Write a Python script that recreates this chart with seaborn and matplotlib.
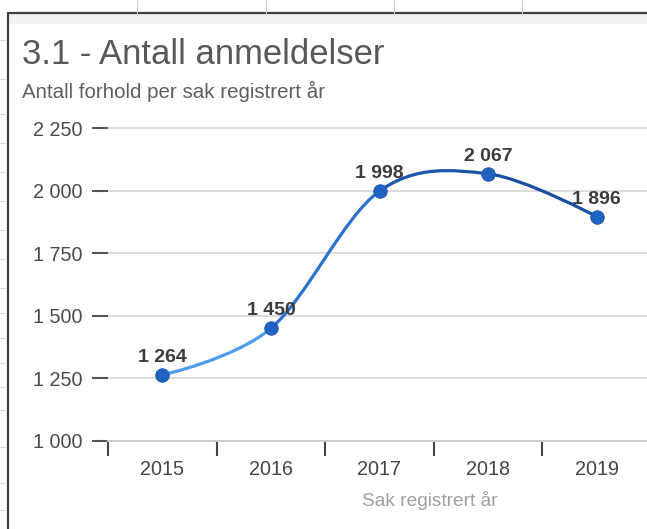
import numpy as np
import pandas as pd
import matplotlib
matplotlib.use("Agg")
import matplotlib.pyplot as plt
from matplotlib.path import Path
from matplotlib.patches import PathPatch
from matplotlib.lines import Line2D
import seaborn as sns

# ---- data ----
years = ["2015", "2016", "2017", "2018", "2019"]
values = [1264, 1450, 1998, 2067, 1896]
value_labels = ["1 264", "1 450", "1 998", "2 067", "1 896"]
ytick_values = [1000, 1250, 1500, 1750, 2000, 2250]
ytick_labels = ["1 000", "1 250", "1 500", "1 750", "2 000", "2 250"]
title = "3.1 - Antall anmeldelser"
subtitle = "Antall forhold per sak registrert år"
xlabel = "Sak registrert år"

sns.set_theme(style="white")
plt.rcParams["font.family"] = ["Liberation Sans", "DejaVu Sans"]

W, H = 647, 529
fig = plt.figure(figsize=(W / 100, H / 100), dpi=100)
fig.patch.set_facecolor("white")

def fx(px):
    return px / W

def fy(py):
    return 1 - py / H

# axes region in pixels
ax_left, ax_right, ax_top, ax_bottom = 108, 651, 128, 441
ax = fig.add_axes([fx(ax_left), fy(ax_bottom), (ax_right - ax_left) / W, (ax_bottom - ax_top) / H])
ax.set_facecolor("none")

df = pd.DataFrame({"pos": np.arange(len(years)), "year": years, "value": values})

ax.set_xlim(-0.5, len(years) - 0.5)
ax.set_ylim(ytick_values[0], ytick_values[-1])

# smooth curve (cardinal/Catmull-Rom style Bezier rendering between data points)
px = df["pos"].to_numpy(dtype=float)
py = df["value"].to_numpy(dtype=float)
n = len(px)
tx = np.zeros(n)
ty = np.zeros(n)
for i in range(1, n - 1):
    tx[i] = (px[i + 1] - px[i - 1]) / 2
    ty[i] = (py[i + 1] - py[i - 1]) / 2
seg_colors = ["#4d9cf0", "#2c70d2", "#1c56ac", "#184fa0"]
for i in range(n - 1):
    verts = [(px[i], py[i]),
             (px[i] + tx[i] / 3, py[i] + ty[i] / 3),
             (px[i + 1] - tx[i + 1] / 3, py[i + 1] - ty[i + 1] / 3),
             (px[i + 1], py[i + 1])]
    path = Path(verts, [Path.MOVETO, Path.CURVE4, Path.CURVE4, Path.CURVE4])
    ax.add_patch(PathPatch(path, facecolor="none", edgecolor=seg_colors[i],
                           lw=2.3, capstyle="round", zorder=3))

sns.scatterplot(data=df, x="pos", y="value", ax=ax, s=95, color="#1f62c2",
                edgecolor="#1a56ad", linewidth=0.6, zorder=4, legend=False)

for xi, yi, lab in zip(px, py, value_labels):
    ax.annotate(lab, (xi, yi), xytext=(0, 6.5), textcoords="offset points",
                ha="center", va="bottom", fontsize=14, fontweight="bold",
                color="#3c3c3c", zorder=5)

# y axis
ax.set_yticks(ytick_values)
ax.set_yticklabels(ytick_labels)
ax.tick_params(axis="y", which="major", length=11.5, width=1.5, color="#555555",
               pad=7.2, labelsize=14.2, labelcolor="#4a4a4a", left=True)
ax.yaxis.grid(True, color="#d6d6d6", lw=1.2)
for gl in ax.get_ygridlines():
    gl.set_clip_on(False)

# x axis
ax.set_xticks(df["pos"])
ax.set_xticklabels(years)
ax.set_xticks(np.arange(-0.5, len(years) - 0.4, 1.0), minor=True)
ax.tick_params(axis="x", which="major", length=0, pad=13.5, labelsize=14.2,
               labelcolor="#454545")
ax.tick_params(axis="x", which="minor", length=11, width=1.5, color="#444444",
               bottom=True)
ax.xaxis.grid(False)
ax.set_xlabel("")
ax.set_ylabel("")
for s in ["top", "right", "left"]:
    ax.spines[s].set_visible(False)
ax.spines["bottom"].set_color("#cccccc")
ax.spines["bottom"].set_linewidth(1.4)

# titles and axis label
fig.text(fx(22), fy(64), title, fontsize=24.9, color="#585858", ha="left", va="baseline")
fig.text(fx(22), fy(98), subtitle, fontsize=14.8, color="#5f5f5f", ha="left", va="baseline")
fig.text(fx(430), fy(506), xlabel, fontsize=13.8, color="#a0a0a0", ha="center", va="baseline")

# screenshot frame decoration
fig.add_artist(plt.Rectangle((fx(9), fy(24)), 1, (24 - 14) / H, transform=fig.transFigure,
                             facecolor="#f1f1f1", edgecolor="none", zorder=0))
fig.add_artist(Line2D([fx(8), fx(8)], [fy(12.5), 0], transform=fig.transFigure,
                      color="#3f3f3f", lw=1.6))
fig.add_artist(Line2D([fx(8), 1], [fy(12.5), fy(12.5)], transform=fig.transFigure,
                      color="#3f3f3f", lw=1.6))
for xv in [137, 266, 394, 522]:
    fig.add_artist(Line2D([fx(xv), fx(xv)], [1, fy(15)], transform=fig.transFigure,
                          color="#d0d0d0", lw=0.8))
for yv in [40, 79, 114, 143, 172, 201, 230, 259, 288, 313, 338, 363, 387, 410, 447, 483, 510]:
    fig.add_artist(Line2D([0, fx(5)], [fy(yv), fy(yv)], transform=fig.transFigure,
                          color="#d8d8d8", lw=0.8))

fig.savefig("out.png", dpi=100)
